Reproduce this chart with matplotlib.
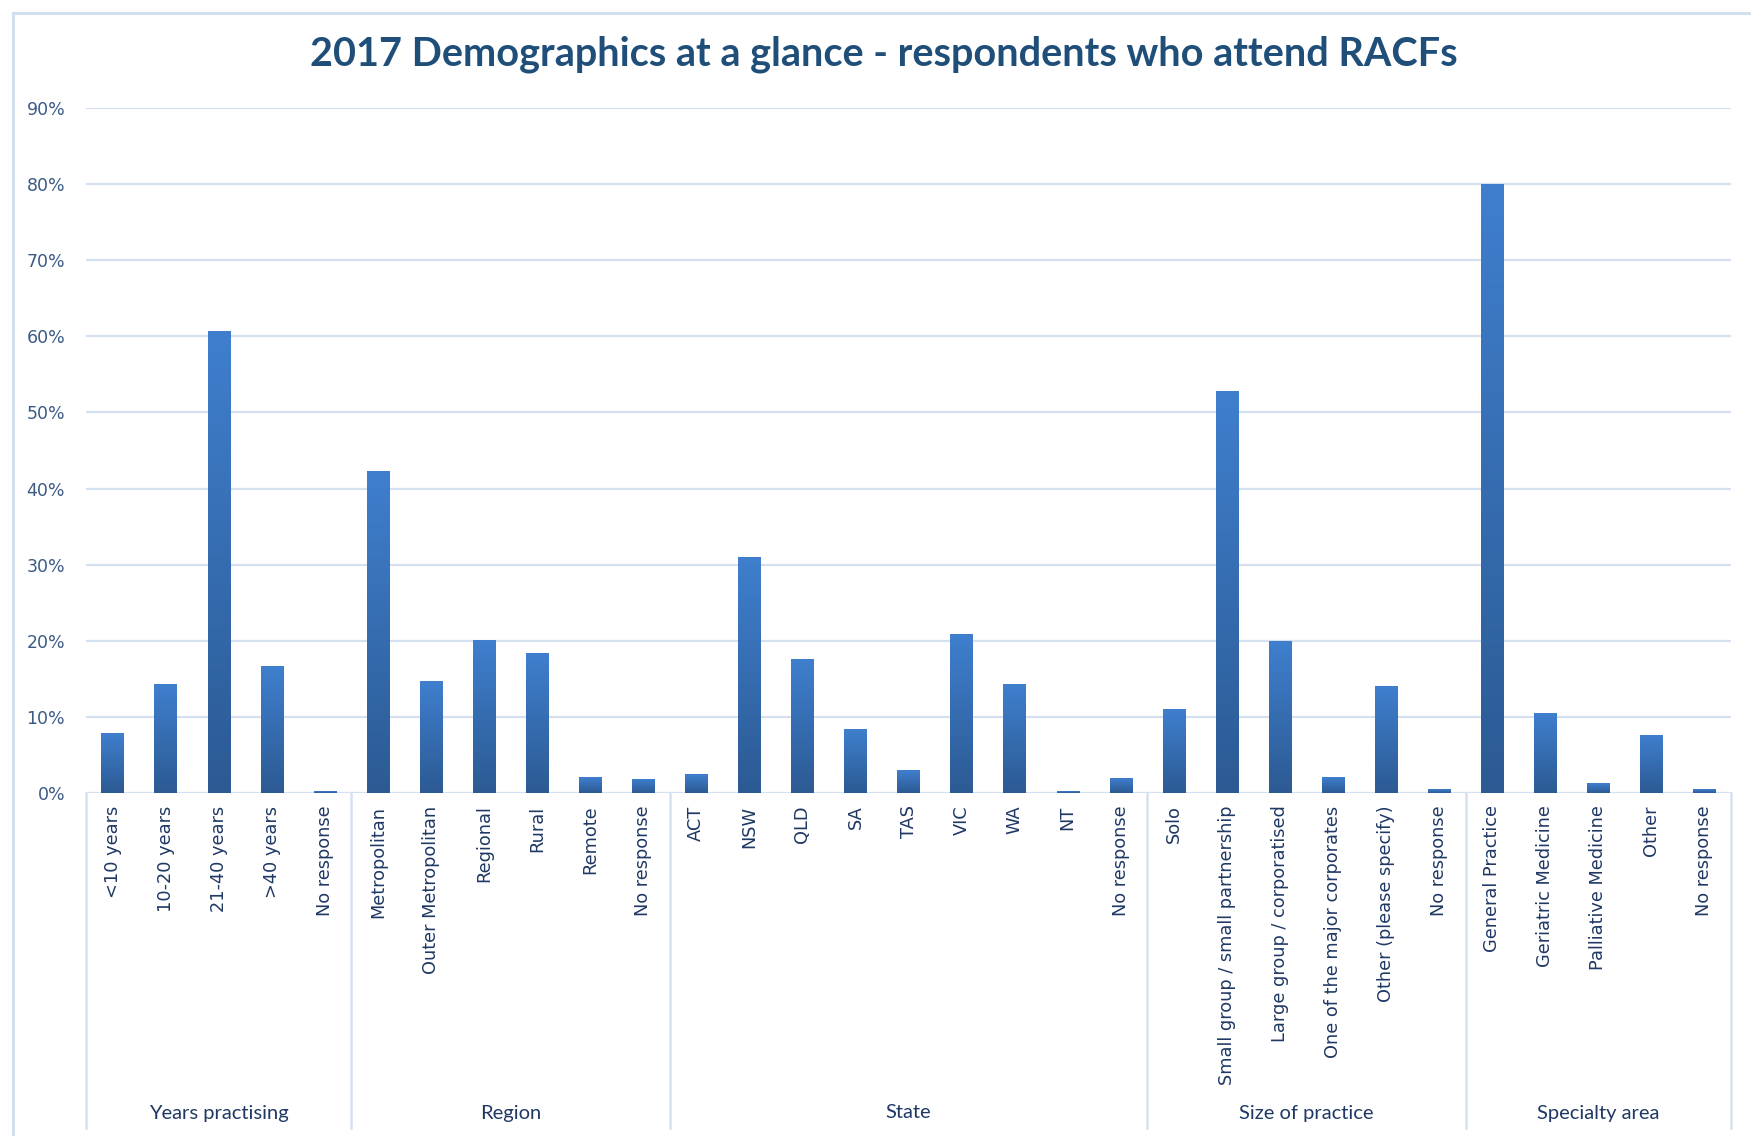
import numpy as np
import matplotlib
matplotlib.use("Agg")
import matplotlib.pyplot as plt
from matplotlib.colors import LinearSegmentedColormap
from matplotlib.lines import Line2D

title = "2017 Demographics at a glance - respondents who attend RACFs"
groups = ["Years practising", "Region", "State", "Size of practice", "Specialty area"]

years_labels = ["<10 years", "10-20 years", "21-40 years", ">40 years", "No response"]
years_values = [7.8, 14.2, 60.7, 16.6, 0.2]

region_labels = ["Metropolitan", "Outer Metropolitan", "Regional", "Rural", "Remote", "No response"]
region_values = [42.2, 14.7, 20.1, 18.3, 2.0, 1.8]

state_labels = ["ACT", "NSW", "QLD", "SA", "TAS", "VIC", "WA", "NT", "No response"]
state_values = [2.4, 31.0, 17.5, 8.4, 2.9, 20.8, 14.3, 0.2, 1.9]

size_labels = ["Solo", "Small group / small partnership", "Large group / corporatised",
               "One of the major corporates", "Other (please specify)", "No response"]
size_values = [11.0, 52.7, 19.9, 2.1, 14.0, 0.45]

spec_labels = ["General Practice", "Geriatric Medicine", "Palliative Medicine", "Other", "No response"]
spec_values = [80.0, 10.4, 1.2, 7.6, 0.45]

yticks = [0, 10, 20, 30, 40, 50, 60, 70, 80, 90]

group_labels = [years_labels, region_labels, state_labels, size_labels, spec_labels]
group_values = [years_values, region_values, state_values, size_values, spec_values]

labels = [l for g in group_labels for l in g]
values = [v for g in group_values for v in g]

W, H = 1751, 1136
fig = plt.figure(figsize=(W / 100, H / 100), dpi=100)
fig.patch.set_facecolor("white")

left, right, bottom_px, top_px = 86, 1731, 793, 108
ax = fig.add_axes([left / W, 1 - bottom_px / H, (right - left) / W, (bottom_px - top_px) / H])

grid_col = "#D5E1F1"
tick_col = "#1F3864"
ytick_col = "#3B5A85"

x = np.arange(len(values))
bw = 0.42
bars = ax.bar(x, values, width=bw, color="none", edgecolor="none", zorder=3)

cmap = LinearSegmentedColormap.from_list("g", ["#2C5A93", "#3F7FCE"])
grad = np.linspace(0, 1, 256).reshape(-1, 1)
for b in bars:
    x0 = b.get_x()
    w = b.get_width()
    h = b.get_height()
    ax.imshow(grad, extent=[x0, x0 + w, 0, h], origin="lower", aspect="auto",
              cmap=cmap, zorder=3, interpolation="bicubic")

ax.set_xlim(-0.5, len(values) - 0.5)
ax.set_ylim(0, 90)
ax.set_yticks(yticks)
ax.set_yticklabels([f"{t}%" for t in yticks], color=ytick_col, fontsize=12.5,
                   family="DejaVu Sans")
ax.yaxis.grid(True, color=grid_col, lw=1.6, zorder=0)
ax.set_axisbelow(True)
ax.axhline(0, color=grid_col, lw=1.8, zorder=2)

ax.set_xticks(x)
ax.set_xticklabels(labels, rotation=90, color=tick_col, fontsize=12.8, family="DejaVu Sans",
                   va="top", ha="center")
ax.tick_params(axis="x", length=0, pad=9)
ax.tick_params(axis="y", length=0, pad=15)
for s in ax.spines.values():
    s.set_visible(False)

# group separators and group labels
bounds = [-0.5]
for g in group_values:
    bounds.append(bounds[-1] + len(g))
sep_depth = -(1128 - 793) / (793 - 108)
trans = ax.get_xaxis_transform()
for bnd in bounds:
    ax.plot([bnd, bnd], [0, sep_depth], transform=trans, color=grid_col, lw=1.8,
            clip_on=False, zorder=2)
lab_y = -(1113 - 793) / (793 - 108)
for i, gname in enumerate(groups):
    c = (bounds[i] + bounds[i + 1]) / 2
    ax.text(c, lab_y, gname, transform=trans, ha="center", va="center",
            color=tick_col, fontsize=14.5, family="Lato")

# title
fig.text(884 / W, 1 - 54 / H, title, ha="center", va="center", fontsize=28.5,
         fontweight="bold", color="#1F4E79", family="Lato")

# chart border (left/top)
bc = "#D0DDEE"
fig.add_artist(Line2D([13 / W, 13 / W], [0, 1 - 13 / H], color=bc, lw=2))
fig.add_artist(Line2D([13 / W, 1], [1 - 13 / H, 1 - 13 / H], color=bc, lw=2))

fig.savefig("out.png", dpi=100, facecolor="white")
